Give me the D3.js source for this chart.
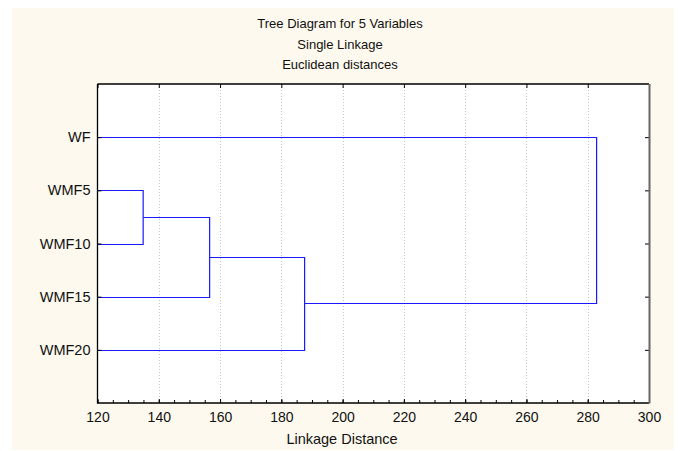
<!DOCTYPE html>
<html>
<head>
<meta charset="utf-8">
<script src="https://cdn.jsdelivr.net/npm/d3@7"></script>
<style>
  body { margin: 0; background: #fff; }
  text { font-family: "Liberation Sans", Arial, sans-serif; fill: #111; }
</style>
</head>
<body>
<div id="chart"></div>
<script>
// leaves, top to bottom
var leaves = ["WF", "WMF5", "WMF10", "WMF15", "WMF20"];
// merges: [left, right, linkage distance]; ids >= 5 are earlier merges
var merges = [
  [1, 2, 134.9],
  [5, 3, 156.6],
  [6, 4, 187.6],
  [0, 7, 282.9]
];
var xTicks = [120, 140, 160, 180, 200, 220, 240, 260, 280, 300];
var titles = ["Tree Diagram for 5 Variables", "Single Linkage", "Euclidean distances"];

var width = 680, height = 451;
var margin = {top: 84, right: 31, bottom: 48, left: 97.5};

var svg = d3.select("#chart").append("svg")
  .attr("width", width).attr("height", height);

svg.append("rect").attr("x", 12).attr("y", 8)
  .attr("width", 662).attr("height", 442)
  .attr("fill", "#fdf9ee");

var x = d3.scaleLinear().domain([120, 300])
  .range([margin.left, width - margin.right]);
var y = d3.scalePoint().domain(leaves)
  .range([margin.top, height - margin.bottom]).padding(1);

var x0 = x.range()[0], x1 = x.range()[1];
var y0 = y.range()[0], y1 = y.range()[1];

svg.append("rect").attr("x", x0).attr("y", y0)
  .attr("width", x1 - x0).attr("height", y1 - y0)
  .attr("fill", "#fff");

// dotted grid
svg.append("g").selectAll("line").data(xTicks.slice(1, -1)).join("line")
  .attr("x1", d => Math.round(x(d)) + 0.5).attr("x2", d => Math.round(x(d)) + 0.5)
  .attr("y1", y0).attr("y2", y1)
  .attr("stroke", "#c4c4c4").attr("stroke-dasharray", "1,2");

// dendrogram
var nodes = leaves.map(function(d) { return {x: x(120), y: y(d)}; });
var links = [];
merges.forEach(function(m) {
  var a = nodes[m[0]], b = nodes[m[1]], xm = x(m[2]);
  links.push([[a.x, a.y], [xm, a.y], [xm, b.y], [b.x, b.y]]);
  nodes.push({x: xm, y: (a.y + b.y) / 2});
});
svg.append("g").selectAll("path").data(links).join("path")
  .attr("d", d3.line().x(d => d[0]).y(d => Math.round(d[1]) + 0.5))
  .attr("fill", "none").attr("stroke", "#1a1aff").attr("stroke-width", 1.2);

// axes
var minor = d3.range(120, 301, 5);
svg.append("g").attr("transform", "translate(0," + y1 + ")")
  .call(d3.axisBottom(x).tickValues(minor).tickSize(-3).tickFormat(""))
  .call(g => g.select(".domain").remove());
svg.append("g").attr("transform", "translate(0," + y1 + ")")
  .call(d3.axisBottom(x).tickValues(xTicks).tickSize(-4).tickPadding(9))
  .call(g => g.select(".domain").remove())
  .call(g => g.selectAll("text").attr("font-size", 14).attr("fill", "#111"));
svg.append("g").attr("transform", "translate(0," + y0 + ")")
  .call(d3.axisTop(x).tickValues(xTicks).tickSize(-4).tickFormat(""))
  .call(g => g.select(".domain").remove());
svg.append("g").attr("transform", "translate(" + x0 + ",0)")
  .call(d3.axisLeft(y).tickSize(-4).tickPadding(7))
  .call(g => g.select(".domain").remove())
  .call(g => g.selectAll("text").attr("font-size", 14.5).attr("fill", "#111"));
svg.append("g").attr("transform", "translate(" + x1 + ",0)")
  .call(d3.axisRight(y).tickSize(-4).tickFormat(""))
  .call(g => g.select(".domain").remove());

// frame
svg.append("path")
  .attr("d", "M" + x0 + "," + y0 + "H" + x1 + "M" + x0 + "," + y0 + "V" + y1 + "H" + x1)
  .attr("fill", "none").attr("stroke", "#000").attr("stroke-width", 1.3);
svg.append("line").attr("x1", x1 + 0.5).attr("x2", x1 + 0.5)
  .attr("y1", y0).attr("y2", y1 + 0.5)
  .attr("stroke", "#666").attr("stroke-width", 2);

svg.append("g").selectAll("text").data(titles).join("text")
  .attr("x", 340).attr("y", (d, i) => 28 + i * 20.5)
  .attr("text-anchor", "middle").attr("font-size", 13)
  .text(d => d);

svg.append("text").attr("x", 342).attr("y", 444)
  .attr("text-anchor", "middle").attr("font-size", 14.5)
  .text("Linkage Distance");
</script>
</body>
</html>
